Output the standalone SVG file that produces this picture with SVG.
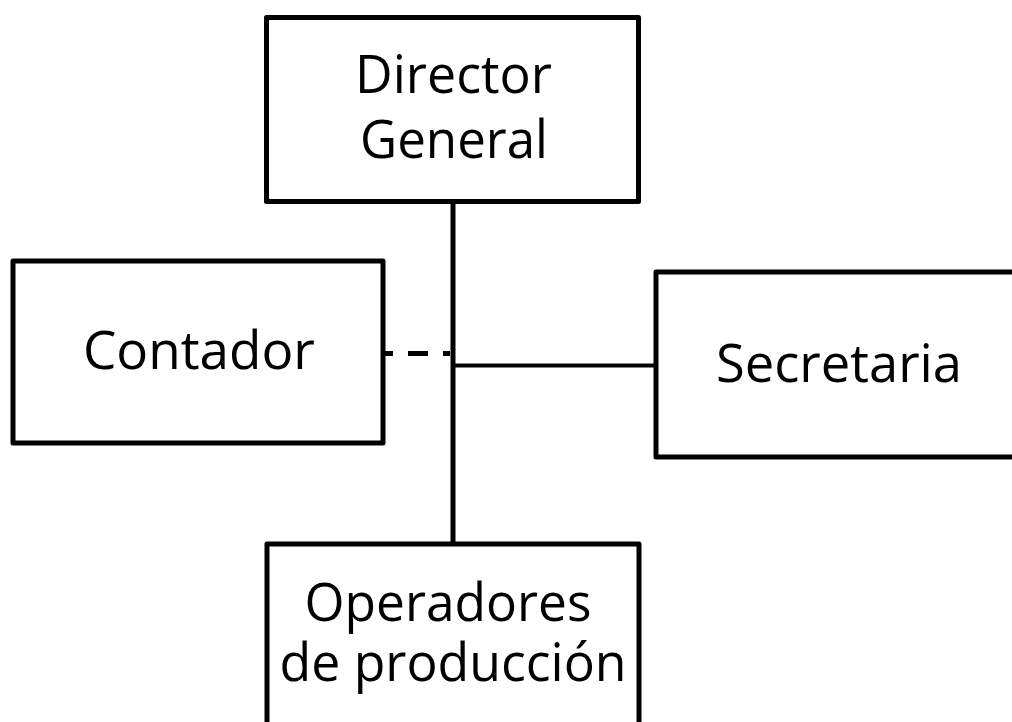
<svg xmlns="http://www.w3.org/2000/svg" width="1012" height="722" viewBox="0 0 1012 722">
<style>
.box{fill:#fff;stroke:#000;stroke-width:5;stroke-linejoin:round}
.t{font-family:"Open Sans","Liberation Sans",sans-serif;font-size:53px;fill:#000;text-anchor:middle}
.c{stroke:#000;fill:none}
</style>
<rect width="1012" height="722" fill="#fff"/>
<g id="connectors">
<line class="c" x1="453" y1="201" x2="453" y2="544" stroke-width="5"/>
<line class="c" x1="453" y1="365.5" x2="656" y2="365.5" stroke-width="4"/>
<line class="c" x1="383" y1="353.5" x2="450" y2="353.5" stroke-width="5" stroke-dasharray="20 15" stroke-dashoffset="10"/>
</g>
<g id="director">
<rect class="box" x="266.5" y="17.5" width="372" height="184"/>
<text class="t" x="453.5" y="93" textLength="197" lengthAdjust="spacingAndGlyphs">Director</text>
<text class="t" x="454" y="158" textLength="188" lengthAdjust="spacingAndGlyphs">General</text>
</g>
<g id="contador">
<rect class="box" x="13" y="261" width="370" height="182"/>
<text class="t" x="199" y="369" textLength="232" lengthAdjust="spacingAndGlyphs">Contador</text>
</g>
<g id="secretaria">
<rect class="box" x="656" y="272" width="400" height="185"/>
<text class="t" x="839" y="382" textLength="246" lengthAdjust="spacingAndGlyphs">Secretaria</text>
</g>
<g id="operadores">
<rect class="box" x="267" y="544" width="372" height="200"/>
<text class="t" x="448" y="621" textLength="287" lengthAdjust="spacingAndGlyphs">Operadores</text>
<text class="t" x="453" y="681" textLength="347" lengthAdjust="spacingAndGlyphs">de producción</text>
</g>
</svg>
